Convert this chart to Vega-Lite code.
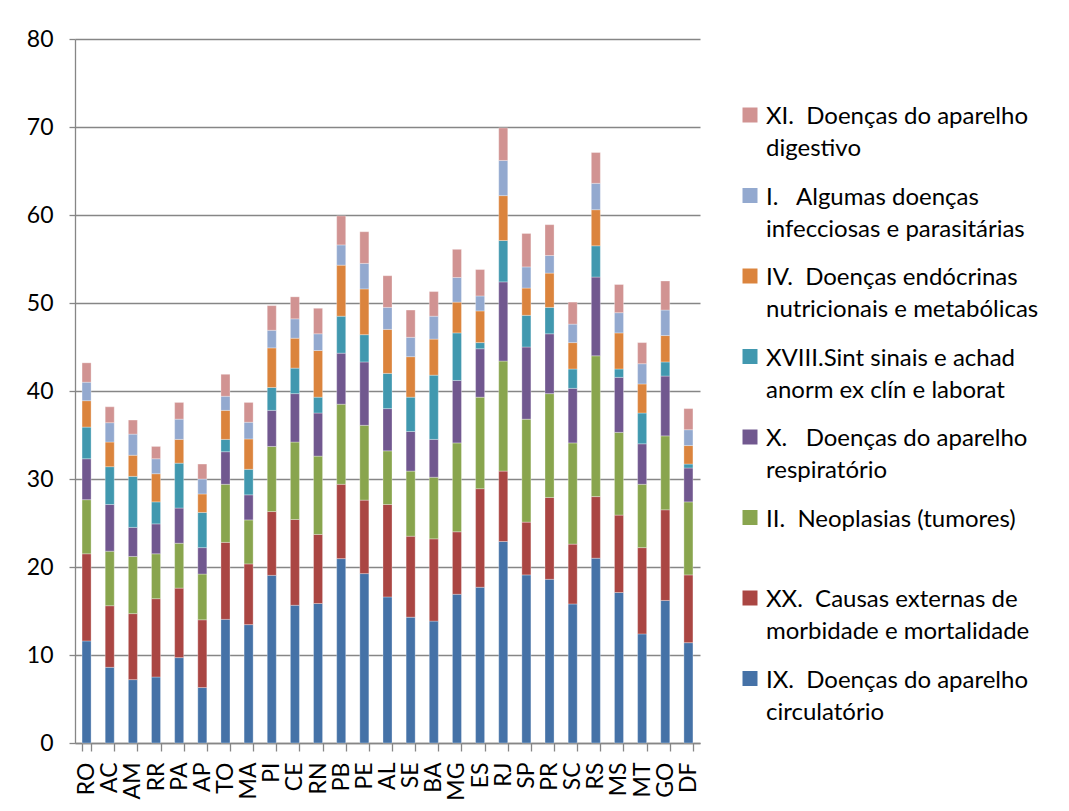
{
  "$schema": "https://vega.github.io/schema/vega-lite/v6.json",
  "width": 625,
  "height": 704,
  "autosize": {"type": "none"},
  "padding": {"left": 75, "top": 39, "right": 369, "bottom": 68},
  "background": "white",
  "datasets": {
    "caps": [
      {"cap": "IX", "ordem": 1},
      {"cap": "XX", "ordem": 2},
      {"cap": "II", "ordem": 3},
      {"cap": "X", "ordem": 4},
      {"cap": "XVIII", "ordem": 5},
      {"cap": "IV", "ordem": 6},
      {"cap": "I", "ordem": 7},
      {"cap": "XI", "ordem": 8}
    ]
  },
  "data": {
    "values": [
      {"uf":"RO","cap":"IX","v":11.6},{"uf":"RO","cap":"XX","v":9.9},{"uf":"RO","cap":"II","v":6.15},{"uf":"RO","cap":"X","v":4.65},{"uf":"RO","cap":"XVIII","v":3.6},{"uf":"RO","cap":"IV","v":3.0},{"uf":"RO","cap":"I","v":2.1},{"uf":"RO","cap":"XI","v":2.2},
      {"uf":"AC","cap":"IX","v":8.6},{"uf":"AC","cap":"XX","v":7.0},{"uf":"AC","cap":"II","v":6.2},{"uf":"AC","cap":"X","v":5.3},{"uf":"AC","cap":"XVIII","v":4.3},{"uf":"AC","cap":"IV","v":2.8},{"uf":"AC","cap":"I","v":2.2},{"uf":"AC","cap":"XI","v":1.8},
      {"uf":"AM","cap":"IX","v":7.2},{"uf":"AM","cap":"XX","v":7.5},{"uf":"AM","cap":"II","v":6.5},{"uf":"AM","cap":"X","v":3.3},{"uf":"AM","cap":"XVIII","v":5.8},{"uf":"AM","cap":"IV","v":2.4},{"uf":"AM","cap":"I","v":2.4},{"uf":"AM","cap":"XI","v":1.6},
      {"uf":"RR","cap":"IX","v":7.5},{"uf":"RR","cap":"XX","v":8.9},{"uf":"RR","cap":"II","v":5.1},{"uf":"RR","cap":"X","v":3.4},{"uf":"RR","cap":"XVIII","v":2.5},{"uf":"RR","cap":"IV","v":3.2},{"uf":"RR","cap":"I","v":1.7},{"uf":"RR","cap":"XI","v":1.4},
      {"uf":"PA","cap":"IX","v":9.7},{"uf":"PA","cap":"XX","v":7.9},{"uf":"PA","cap":"II","v":5.1},{"uf":"PA","cap":"X","v":4.0},{"uf":"PA","cap":"XVIII","v":5.1},{"uf":"PA","cap":"IV","v":2.7},{"uf":"PA","cap":"I","v":2.3},{"uf":"PA","cap":"XI","v":1.9},
      {"uf":"AP","cap":"IX","v":6.3},{"uf":"AP","cap":"XX","v":7.7},{"uf":"AP","cap":"II","v":5.2},{"uf":"AP","cap":"X","v":3.0},{"uf":"AP","cap":"XVIII","v":4.0},{"uf":"AP","cap":"IV","v":2.1},{"uf":"AP","cap":"I","v":1.7},{"uf":"AP","cap":"XI","v":1.7},
      {"uf":"TO","cap":"IX","v":14.05},{"uf":"TO","cap":"XX","v":8.75},{"uf":"TO","cap":"II","v":6.6},{"uf":"TO","cap":"X","v":3.7},{"uf":"TO","cap":"XVIII","v":1.4},{"uf":"TO","cap":"IV","v":3.3},{"uf":"TO","cap":"I","v":1.6},{"uf":"TO","cap":"XI","v":2.5},
      {"uf":"MA","cap":"IX","v":13.45},{"uf":"MA","cap":"XX","v":6.9},{"uf":"MA","cap":"II","v":5.0},{"uf":"MA","cap":"X","v":2.85},{"uf":"MA","cap":"XVIII","v":2.9},{"uf":"MA","cap":"IV","v":3.45},{"uf":"MA","cap":"I","v":1.9},{"uf":"MA","cap":"XI","v":2.25},
      {"uf":"PI","cap":"IX","v":19.05},{"uf":"PI","cap":"XX","v":7.25},{"uf":"PI","cap":"II","v":7.4},{"uf":"PI","cap":"X","v":4.1},{"uf":"PI","cap":"XVIII","v":2.6},{"uf":"PI","cap":"IV","v":4.5},{"uf":"PI","cap":"I","v":2.0},{"uf":"PI","cap":"XI","v":2.8},
      {"uf":"CE","cap":"IX","v":15.65},{"uf":"CE","cap":"XX","v":9.75},{"uf":"CE","cap":"II","v":8.8},{"uf":"CE","cap":"X","v":5.5},{"uf":"CE","cap":"XVIII","v":2.9},{"uf":"CE","cap":"IV","v":3.4},{"uf":"CE","cap":"I","v":2.2},{"uf":"CE","cap":"XI","v":2.5},
      {"uf":"RN","cap":"IX","v":15.85},{"uf":"RN","cap":"XX","v":7.85},{"uf":"RN","cap":"II","v":8.9},{"uf":"RN","cap":"X","v":4.9},{"uf":"RN","cap":"XVIII","v":1.8},{"uf":"RN","cap":"IV","v":5.3},{"uf":"RN","cap":"I","v":1.9},{"uf":"RN","cap":"XI","v":2.9},
      {"uf":"PB","cap":"IX","v":20.95},{"uf":"PB","cap":"XX","v":8.45},{"uf":"PB","cap":"II","v":9.1},{"uf":"PB","cap":"X","v":5.8},{"uf":"PB","cap":"XVIII","v":4.2},{"uf":"PB","cap":"IV","v":5.8},{"uf":"PB","cap":"I","v":2.3},{"uf":"PB","cap":"XI","v":3.3},
      {"uf":"PE","cap":"IX","v":19.25},{"uf":"PE","cap":"XX","v":8.35},{"uf":"PE","cap":"II","v":8.5},{"uf":"PE","cap":"X","v":7.2},{"uf":"PE","cap":"XVIII","v":3.1},{"uf":"PE","cap":"IV","v":5.2},{"uf":"PE","cap":"I","v":2.9},{"uf":"PE","cap":"XI","v":3.6},
      {"uf":"AL","cap":"IX","v":16.6},{"uf":"AL","cap":"XX","v":10.5},{"uf":"AL","cap":"II","v":6.1},{"uf":"AL","cap":"X","v":4.8},{"uf":"AL","cap":"XVIII","v":4.0},{"uf":"AL","cap":"IV","v":5.0},{"uf":"AL","cap":"I","v":2.5},{"uf":"AL","cap":"XI","v":3.6},
      {"uf":"SE","cap":"IX","v":14.3},{"uf":"SE","cap":"XX","v":9.2},{"uf":"SE","cap":"II","v":7.4},{"uf":"SE","cap":"X","v":4.5},{"uf":"SE","cap":"XVIII","v":3.9},{"uf":"SE","cap":"IV","v":4.6},{"uf":"SE","cap":"I","v":2.2},{"uf":"SE","cap":"XI","v":3.1},
      {"uf":"BA","cap":"IX","v":13.85},{"uf":"BA","cap":"XX","v":9.35},{"uf":"BA","cap":"II","v":7.0},{"uf":"BA","cap":"X","v":4.3},{"uf":"BA","cap":"XVIII","v":7.3},{"uf":"BA","cap":"IV","v":4.1},{"uf":"BA","cap":"I","v":2.6},{"uf":"BA","cap":"XI","v":2.8},
      {"uf":"MG","cap":"IX","v":16.9},{"uf":"MG","cap":"XX","v":7.1},{"uf":"MG","cap":"II","v":10.1},{"uf":"MG","cap":"X","v":7.1},{"uf":"MG","cap":"XVIII","v":5.4},{"uf":"MG","cap":"IV","v":3.5},{"uf":"MG","cap":"I","v":2.8},{"uf":"MG","cap":"XI","v":3.2},
      {"uf":"ES","cap":"IX","v":17.7},{"uf":"ES","cap":"XX","v":11.2},{"uf":"ES","cap":"II","v":10.4},{"uf":"ES","cap":"X","v":5.5},{"uf":"ES","cap":"XVIII","v":0.7},{"uf":"ES","cap":"IV","v":3.6},{"uf":"ES","cap":"I","v":1.7},{"uf":"ES","cap":"XI","v":3.0},
      {"uf":"RJ","cap":"IX","v":22.9},{"uf":"RJ","cap":"XX","v":8.0},{"uf":"RJ","cap":"II","v":12.5},{"uf":"RJ","cap":"X","v":9.0},{"uf":"RJ","cap":"XVIII","v":4.7},{"uf":"RJ","cap":"IV","v":5.1},{"uf":"RJ","cap":"I","v":4.0},{"uf":"RJ","cap":"XI","v":3.7},
      {"uf":"SP","cap":"IX","v":19.1},{"uf":"SP","cap":"XX","v":6.0},{"uf":"SP","cap":"II","v":11.7},{"uf":"SP","cap":"X","v":8.2},{"uf":"SP","cap":"XVIII","v":3.6},{"uf":"SP","cap":"IV","v":3.1},{"uf":"SP","cap":"I","v":2.4},{"uf":"SP","cap":"XI","v":3.8},
      {"uf":"PR","cap":"IX","v":18.6},{"uf":"PR","cap":"XX","v":9.3},{"uf":"PR","cap":"II","v":11.8},{"uf":"PR","cap":"X","v":6.8},{"uf":"PR","cap":"XVIII","v":3.0},{"uf":"PR","cap":"IV","v":3.9},{"uf":"PR","cap":"I","v":2.0},{"uf":"PR","cap":"XI","v":3.5},
      {"uf":"SC","cap":"IX","v":15.8},{"uf":"SC","cap":"XX","v":6.8},{"uf":"SC","cap":"II","v":11.5},{"uf":"SC","cap":"X","v":6.2},{"uf":"SC","cap":"XVIII","v":2.2},{"uf":"SC","cap":"IV","v":3.0},{"uf":"SC","cap":"I","v":2.1},{"uf":"SC","cap":"XI","v":2.5},
      {"uf":"RS","cap":"IX","v":21.0},{"uf":"RS","cap":"XX","v":7.0},{"uf":"RS","cap":"II","v":16.0},{"uf":"RS","cap":"X","v":8.95},{"uf":"RS","cap":"XVIII","v":3.55},{"uf":"RS","cap":"IV","v":4.1},{"uf":"RS","cap":"I","v":3.0},{"uf":"RS","cap":"XI","v":3.5},
      {"uf":"MS","cap":"IX","v":17.1},{"uf":"MS","cap":"XX","v":8.8},{"uf":"MS","cap":"II","v":9.4},{"uf":"MS","cap":"X","v":6.25},{"uf":"MS","cap":"XVIII","v":0.95},{"uf":"MS","cap":"IV","v":4.1},{"uf":"MS","cap":"I","v":2.3},{"uf":"MS","cap":"XI","v":3.2},
      {"uf":"MT","cap":"IX","v":12.4},{"uf":"MT","cap":"XX","v":9.8},{"uf":"MT","cap":"II","v":7.2},{"uf":"MT","cap":"X","v":4.6},{"uf":"MT","cap":"XVIII","v":3.5},{"uf":"MT","cap":"IV","v":3.3},{"uf":"MT","cap":"I","v":2.3},{"uf":"MT","cap":"XI","v":2.4},
      {"uf":"GO","cap":"IX","v":16.2},{"uf":"GO","cap":"XX","v":10.3},{"uf":"GO","cap":"II","v":8.4},{"uf":"GO","cap":"X","v":6.8},{"uf":"GO","cap":"XVIII","v":1.6},{"uf":"GO","cap":"IV","v":3.0},{"uf":"GO","cap":"I","v":2.9},{"uf":"GO","cap":"XI","v":3.3},
      {"uf":"DF","cap":"IX","v":11.4},{"uf":"DF","cap":"XX","v":7.7},{"uf":"DF","cap":"II","v":8.3},{"uf":"DF","cap":"X","v":3.85},{"uf":"DF","cap":"XVIII","v":0.45},{"uf":"DF","cap":"IV","v":2.1},{"uf":"DF","cap":"I","v":1.8},{"uf":"DF","cap":"XI","v":2.4}
    ]
  },
  "transform": [
    {"lookup": "cap", "from": {"data": {"name": "caps"}, "key": "cap", "fields": ["ordem"]}}
  ],
  "mark": {"type": "bar", "stroke": "#ffffff", "strokeWidth": 0.6, "strokeOpacity": 0.5},
  "encoding": {
    "x": {
      "field": "uf",
      "type": "nominal",
      "sort": null,
      "title": null,
      "scale": {"paddingInner": 0.61, "paddingOuter": 0.305},
      "axis": {
        "labelAngle": -90,
        "labelFontSize": 23,
        "labelFont": "Lato",
        "labelColor": "#000000",
        "labelPadding": 11,
        "tickBand": "extent",
        "tickSize": 8,
        "tickColor": "#868686",
        "domainColor": "#868686",
        "domainWidth": 1.3,
        "tickWidth": 1.3
      }
    },
    "y": {
      "field": "v",
      "type": "quantitative",
      "stack": "zero",
      "title": null,
      "scale": {"domain": [0, 80], "nice": false},
      "axis": {
        "values": [0, 10, 20, 30, 40, 50, 60, 70, 80],
        "labelFontSize": 23,
        "labelFont": "Lato",
        "labelColor": "#000000",
        "labelPadding": 16,
        "tickSize": 6,
        "tickColor": "#868686",
        "tickWidth": 1.3,
        "domainColor": "#868686",
        "domainWidth": 1.3,
        "gridColor": "#868686",
        "gridWidth": 1.3
      }
    },
    "color": {
      "field": "cap",
      "type": "nominal",
      "scale": {
        "domain": ["XI", "I", "IV", "XVIII", "X", "II", "XX", "IX"],
        "range": ["#D19392", "#93A9CF", "#DB843D", "#4198AF", "#71588F", "#89A54E", "#AA4643", "#4572A7"]
      },
      "legend": {
        "title": null,
        "orient": "none",
        "legendX": 663,
        "legendY": 73,
        "padding": 0,
        "symbolType": "M-1,-2.2H1V-0.2H-1Z",
        "symbolSize": 225,
        "symbolStrokeWidth": 0,
        "symbolOpacity": 1,
        "labelFont": "Lato",
        "labelFontSize": 24,
        "labelColor": "#000000",
        "labelOffset": 4,
        "labelLimit": 400,
        "labelBaseline": "alphabetic",
        "rowPadding": 24.5,
        "labelExpr": "datum.label == 'XI' ? ['XI.\u00a0 Doenças do aparelho', 'digestivo'] : datum.label == 'I' ? ['I.\u00a0\u00a0 Algumas doenças', 'infecciosas e parasitárias'] : datum.label == 'IV' ? ['IV.\u00a0 Doenças endócrinas', 'nutricionais e metabólicas'] : datum.label == 'XVIII' ? ['XVIII.Sint sinais e achad', 'anorm ex clín e laborat'] : datum.label == 'X' ? ['X.\u00a0\u00a0 Doenças do aparelho', 'respiratório'] : datum.label == 'II' ? ['II.\u00a0 Neoplasias (tumores)', '\u00a0'] : datum.label == 'XX' ? ['XX.\u00a0 Causas externas de', 'morbidade e mortalidade'] : ['IX.\u00a0 Doenças do aparelho', 'circulatório']"
      }
    },
    "order": {"field": "ordem", "type": "quantitative", "sort": "ascending"}
  },
  "config": {
    "view": {"stroke": null},
    "axis": {"grid": true},
    "axisX": {"grid": false},
    "style": {"guide-label": {"lineHeight": 32}}
  }
}
